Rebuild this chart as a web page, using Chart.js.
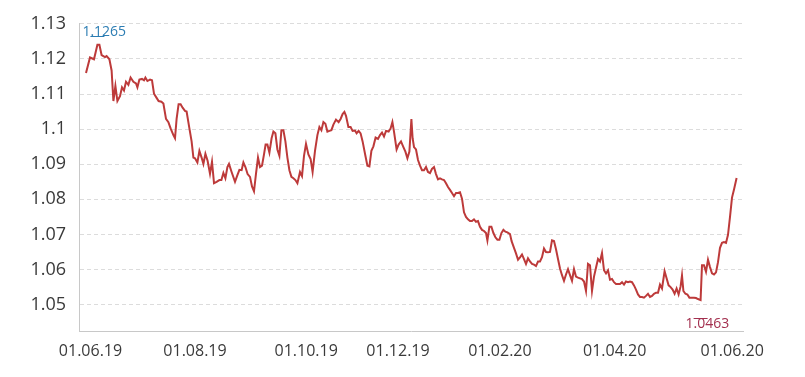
<!DOCTYPE html>
<html>
<head>
<meta charset="utf-8">
<script src="https://cdn.jsdelivr.net/npm/chart.js@4.4.1/dist/chart.umd.min.js"></script>
<style>
    html, body { margin: 0; padding: 0; background: #fff; }
    #wrap { position: relative; width: 805px; height: 377px; }
</style>
</head>
<body>
<div id="wrap"><canvas id="navChart"></canvas></div>
<script>
    "use strict";

    // trading sessions (x position) and NAV
    const sessions = [
        0, 2, 4, 5.7, 6.7, 7.8, 9.5, 10.3, 11.7, 12.8, 13.7, 14.7, 15.7, 17, 18, 19, 20, 21.2, 22.3, 23.7,
        25, 25.7, 26.7, 28, 29, 29.7, 30.7, 32, 33, 34, 35.3, 36.3, 37.7, 38.7, 40, 41.2, 42.3, 43.7, 44.5, 45.3,
        46.3, 47.3, 48.3, 49.5, 50.3, 51.7, 52.8, 53.7, 54.5, 55.7, 56.7, 57.8, 58.7, 59.7, 60.8, 62, 63, 64, 65.3, 66.7,
        67.7, 68.7, 69.7, 70.7, 71.5, 72.8, 74.5, 75.7, 76.7, 77.8, 78.7, 79.7, 80.8, 82, 83, 84, 85, 86, 87, 88,
        89, 89.8, 90.7, 91.7, 92.8, 93.7, 94.7, 95.7, 96.7, 97.7, 98.7, 99.7, 100.7, 101.7, 102.7, 103.7, 104.7, 105.7, 107, 108,
        109, 110, 111.2, 112.3, 113.3, 114.5, 115.7, 116.7, 117.7, 118.7, 119.7, 120.7, 121.7, 122.7, 123.7, 125, 126.3, 127.3, 128.3, 129.2,
        130, 131.2, 132.3, 133.3, 134.5, 135.3, 136.3, 137.3, 138.3, 139.7, 140.7, 141.7, 142.7, 143.7, 144.8, 146, 147, 148, 149, 150,
        151.3, 152.3, 153.2, 154, 155.3, 156.3, 157.5, 158.7, 159.7, 160.7, 161.7, 162.7, 163.3, 164, 165, 166, 167, 168, 169, 170,
        171, 172, 173, 174, 175, 176, 177, 178, 179, 180, 181, 182, 183, 184, 185, 186, 187, 188, 189, 190,
        191, 192, 193, 194, 195, 196, 197, 198, 199, 200, 200.7, 201.7, 202.7, 203.7, 204.7, 205.7, 206.7, 207.7, 208.7, 209.7,
        210.7, 212, 212.8, 214, 215, 216, 217, 218, 219, 220, 221, 222, 223, 224, 225, 226, 227, 228, 229, 230,
        231, 232, 233, 234, 235, 236, 237, 238, 239, 240, 241, 242, 243, 244, 245, 246, 247, 248, 249, 250,
        251, 252, 253, 254, 255, 256, 257, 258, 259, 260, 261, 262, 263, 264, 265, 266, 267, 268, 269, 270,
        271, 272, 273, 274, 275, 276, 277, 278, 279, 280, 281, 282, 283, 284, 285, 286, 287, 288, 289.3, 290.3,
        291.3, 292.3, 293.3, 294.3, 295.3, 296.3, 297.3, 298, 298.7, 299.7, 300.7, 301.7, 303, 304, 305, 306, 307.3, 308, 309, 310,
        311, 312, 313, 314, 315, 316, 317, 318, 319, 320, 321, 322, 323, 324, 325.3
    ];

    const nav = [
        1.1160, 1.1204, 1.1199, 1.1240, 1.1240, 1.1211, 1.1205, 1.1208, 1.1199, 1.1167, 1.1080, 1.1123, 1.1080, 1.1094, 1.1119, 1.1110, 1.1135, 1.1126, 1.1147, 1.1135,
        1.1130, 1.1119, 1.1141, 1.1143, 1.1139, 1.1147, 1.1137, 1.1141, 1.1139, 1.1101, 1.1089, 1.1080, 1.1078, 1.1073, 1.1029, 1.1020, 1.1002, 1.0983, 1.0974, 1.1029,
        1.1071, 1.1071, 1.1061, 1.1052, 1.1050, 1.1002, 1.0965, 1.0919, 1.0917, 1.0905, 1.0938, 1.0919, 1.0901, 1.0930, 1.0910, 1.0873, 1.0907, 1.0846, 1.0850, 1.0855,
        1.0855, 1.0875, 1.0860, 1.0892, 1.0901, 1.0878, 1.0850, 1.0869, 1.0884, 1.0883, 1.0905, 1.0892, 1.0872, 1.0864, 1.0837, 1.0823, 1.0873, 1.0919, 1.0892, 1.0896,
        1.0928, 1.0956, 1.0956, 1.0933, 1.0974, 1.0993, 1.0988, 1.0942, 1.0924, 1.0997, 1.0997, 1.0965, 1.0919, 1.0883, 1.0864, 1.0860, 1.0855, 1.0846, 1.0878, 1.0866,
        1.0924, 1.0958, 1.0928, 1.0915, 1.0878, 1.0938, 1.0983, 1.1006, 1.0997, 1.1020, 1.1015, 1.0993, 1.0995, 1.0997, 1.1013, 1.1027, 1.1020, 1.1029, 1.1043, 1.1049,
        1.1038, 1.1006, 1.1006, 1.0995, 1.0996, 1.0988, 1.0995, 1.0988, 1.0965, 1.0924, 1.0896, 1.0894, 1.0938, 1.0951, 1.0976, 1.0972, 1.0983, 1.0990, 1.0979, 1.0995,
        1.0993, 1.1002, 1.1020, 1.0993, 1.0942, 1.0956, 1.0965, 1.0949, 1.0936, 1.0917, 1.0936, 1.1029, 1.0974, 1.0949, 1.0942, 1.0912, 1.0896, 1.0883, 1.0883, 1.0892,
        1.0878, 1.0875, 1.0887, 1.0892, 1.0872, 1.0857, 1.0860, 1.0857, 1.0855, 1.0846, 1.0835, 1.0827, 1.0818, 1.0809, 1.0818, 1.0818, 1.0820, 1.0802, 1.0763, 1.0750,
        1.0743, 1.0738, 1.0738, 1.0743, 1.0736, 1.0738, 1.0722, 1.0713, 1.0710, 1.0704, 1.0683, 1.0722, 1.0722, 1.0704, 1.0692, 1.0685, 1.0685, 1.0704, 1.0713, 1.0708,
        1.0706, 1.0701, 1.0681, 1.0662, 1.0646, 1.0628, 1.0635, 1.0643, 1.0630, 1.0616, 1.0632, 1.0623, 1.0616, 1.0614, 1.0610, 1.0623, 1.0623, 1.0635, 1.0660, 1.0650,
        1.0649, 1.0650, 1.0683, 1.0681, 1.0658, 1.0630, 1.0603, 1.0584, 1.0568, 1.0586, 1.0601, 1.0584, 1.0568, 1.0601, 1.0580, 1.0577, 1.0575, 1.0573, 1.0566, 1.0539,
        1.0616, 1.0612, 1.0539, 1.0580, 1.0605, 1.0630, 1.0623, 1.0647, 1.0598, 1.0589, 1.0598, 1.0571, 1.0573, 1.0564, 1.0559, 1.0559, 1.0559, 1.0564, 1.0557, 1.0566,
        1.0564, 1.0566, 1.0564, 1.0555, 1.0543, 1.0529, 1.0522, 1.0522, 1.0520, 1.0525, 1.0531, 1.0522, 1.0525, 1.0531, 1.0534, 1.0534, 1.0557, 1.0546, 1.0595, 1.0575,
        1.0555, 1.0550, 1.0543, 1.0531, 1.0546, 1.0529, 1.0552, 1.0583, 1.0539, 1.0531, 1.0529, 1.0520, 1.0520, 1.0520, 1.0519, 1.0516, 1.0513, 1.0612, 1.0612, 1.0594,
        1.0628, 1.0607, 1.0589, 1.0586, 1.0592, 1.0621, 1.0662, 1.0676, 1.0678, 1.0676, 1.0699, 1.0750, 1.0805, 1.0828, 1.0861
    ];

    const xTickLabels = ["01.06.19", "01.08.19", "01.10.19", "01.12.19", "01.02.20", "01.04.20", "01.06.20"];
    const xTickSessions = [2.25, 54.5, 110.1, 156, 207, 264.35, 323.1];
    const yTicks = [1.05, 1.06, 1.07, 1.08, 1.09, 1.10, 1.11, 1.12, 1.13];

    // period high / low shown as markers
    const highLabel = "1.1265";
    const highValue = 1.1265;
    const lowLabel = "1.0463";
    const lowValue = 1.0463;

    (function () {
        const FONT = "'Open Sans', 'Noto Sans', sans-serif";
        const LINE = "#bd3a3a";

        const points = sessions.map((s, i) => ({ x: s, y: nav[i] }));

        function idxOf(fn) {
            let k = 0;
            for (let i = 1; i < nav.length; i++) if (fn(nav[i], nav[k])) k = i;
            return k;
        }

        /* ---------------- high / low markers ---------------- */
        const extremesPlugin = {
            id: "extremes",
            afterDatasetsDraw(chart) {
                const { ctx, scales: { x, y }, chartArea } = chart;
                const marks = [
                    { i: idxOf((a, b) => a > b), v: highValue, text: highLabel, color: "#2c7db3", above: true },
                    { i: idxOf((a, b) => a < b), v: lowValue, text: lowLabel, color: "#a3304f", above: false }
                ];
                ctx.save();
                ctx.font = "14px " + FONT;
                ctx.textAlign = "left";
                ctx.textBaseline = "alphabetic";
                marks.forEach(m => {
                    const px = x.getPixelForValue(sessions[m.i]);
                    const py = y.getPixelForValue(m.v);
                    ctx.strokeStyle = m.color;
                    ctx.lineWidth = 1;
                    ctx.beginPath();
                    ctx.moveTo(px - 7, Math.round(py) + 0.5);
                    ctx.lineTo(px + 7, Math.round(py) + 0.5);
                    ctx.stroke();
                    ctx.fillStyle = m.color;
                    const tx = Math.max(px - 15, chartArea.left + 3);
                    ctx.fillText(m.text, tx, m.above ? py : py + 10);
                });
                ctx.restore();
            }
        };

        new Chart(document.getElementById("navChart").getContext("2d"), {
            type: "line",
            data: {
                datasets: [{
                    data: points,
                    borderColor: LINE,
                    borderWidth: 2,
                    pointRadius: 0,
                    tension: 0,
                    fill: false
                }]
            },
            options: {
                responsive: true,
                maintainAspectRatio: false,
                animation: false,
                layout: { padding: { top: 13, right: 62, bottom: 0, left: 0 } },
                plugins: { legend: { display: false }, tooltip: { enabled: false } },
                scales: {
                    x: {
                        type: "linear",
                        min: -3.5,
                        max: 328.5,
                        afterBuildTicks: s => { s.ticks = xTickSessions.map(v => ({ value: v })); },
                        afterFit: s => { s.height = 46; },
                        grid: { display: false, drawTicks: false },
                        border: { display: true, color: "#c8c8c8", width: 1 },
                        ticks: {
                            autoSkip: false,
                            maxRotation: 0,
                            padding: 11,
                            color: "#3a3a3a",
                            font: { size: 16, family: FONT },
                            callback: (v, i) => xTickLabels[i]
                        }
                    },
                    y: {
                        min: 1.0425,
                        max: 1.13,
                        afterBuildTicks: s => { s.ticks = yTicks.map(v => ({ value: v })); },
                        afterFit: s => { s.width = 79; },
                        grid: { color: "#dcdcdc", lineWidth: 1, drawTicks: false },
                        border: { display: true, color: "#c8c8c8", width: 1, dash: [4, 3] },
                        ticks: {
                            padding: 13,
                            color: "#3a3a3a",
                            font: { size: 18, family: FONT },
                            callback: v => String(parseFloat(Number(v).toFixed(2)))
                        }
                    }
                }
            },
            plugins: [extremesPlugin]
        });
    })();
</script>
</body>
</html>
